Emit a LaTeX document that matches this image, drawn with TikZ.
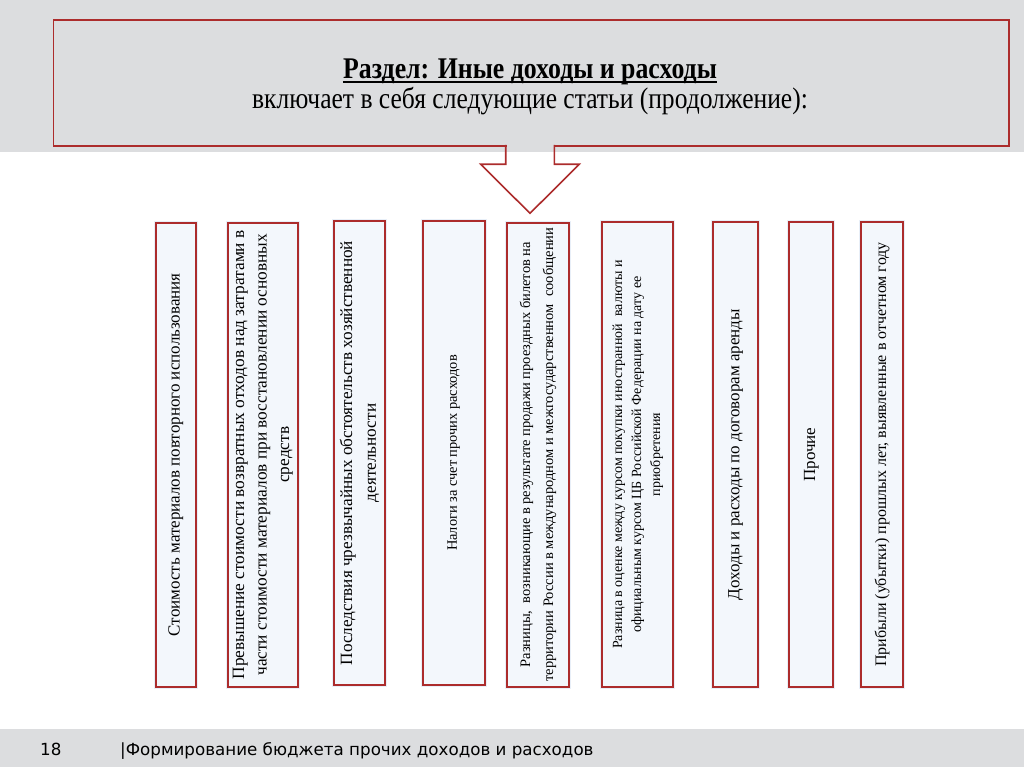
\documentclass[tikz,border=0pt]{standalone}
\usepackage{fontspec}
\setmainfont{Liberation Serif}
\newfontfamily\titlefont[FakeStretch=0.86]{Liberation Serif}
\newfontfamily\footfont{DejaVu Sans}
\definecolor{band}{RGB}{220,221,223}
\definecolor{bred}{RGB}{172,44,44}
\definecolor{boxfill}{RGB}{243,247,252}
\definecolor{glow}{RGB}{232,239,248}
\tikzset{
  titlebox/.style={draw=bred, line width=1.7, fill=band, inner sep=0},
  itembox/.style={draw=bred, line width=1.8, fill=boxfill, rotate=90, inner sep=0, align=center,
    preaction={draw=glow, line width=4}},
  arrowline/.style={draw=bred, line width=1.6, line join=miter},
  fs/.style n args={2}{font=\fontsize{#1}{#2}\selectfont},
}
\begin{document}
\begin{tikzpicture}[x=1pt,y=-1pt]
\useasboundingbox (0,0) rectangle (1024,767);
\fill[band] (0,0) rectangle (1024,152);
\fill[band] (0,729) rectangle (1024,767);
% title
\node[titlebox, minimum width=955.5, minimum height=126, anchor=north west] (title) at (52.5,19) {};
\node[anchor=base, inner sep=0, font={\titlefont\fontsize{30}{34}\selectfont\bfseries}] (t1) at (530,79) {Раздел: Иные доходы и расходы};
\draw[line width=2.2] ([yshift=-3.2pt]t1.base west) -- ([yshift=-3.2pt]t1.base east);
\node[anchor=base, font={\titlefont\fontsize{29.7}{33}\selectfont}] (t2) at (530,108.5) {включает в себя следующие статьи (продолжение):};
% block arrow
\fill[band] (506.5,142) rectangle (553.5,148);
\coordinate (a1) at (505.7,145);
\coordinate (a2) at (505.7,164.3);
\coordinate (a3) at (480.7,164.3);
\coordinate (tip) at (530,213.3);
\coordinate (a5) at (579.3,164.3);
\coordinate (a6) at (554.3,164.3);
\coordinate (a7) at (554.3,145);
\draw[arrowline] (a1) -- (a2) -- (a3) -- (tip) -- (a5) -- (a6) -- (a7);
% items
\node[itembox, minimum width=464, minimum height=40, fs={17}{22}] (b1) at (175.7,454.7)
  {Стоимость материалов повторного использования};
\node[itembox, minimum width=464, minimum height=69.7, fs={17.3}{22.5}] (b2) at (262.8,454.7)
  {Превышение стоимости возвратных отходов над затратами в\\части стоимости материалов при восстановлении основных\\средств};
\node[itembox, minimum width=464, minimum height=51, fs={17.2}{23.7}] (b3) at (359.5,453)
  {Последствия чрезвычайных обстоятельств хозяйственной\\деятельности};
\node[itembox, minimum width=464, minimum height=62.3, fs={14.4}{18}] (b4) at (453.8,453)
  {Налоги за счет прочих расходов};
\node[itembox, minimum width=464, minimum height=62.6, fs={14.5}{23}] (b5) at (538,454.7)
  {Разницы,\ \ возникающие в результате продажи проездных билетов на\\территории России в международном и межгосударственном\ \ сообщении};
\node[itembox, minimum width=465, minimum height=71, fs={14}{19}] (b6) at (637.8,454.5)
  {Разница в оценке между курсом покупки иностранной\ \ валюты и\\официальным курсом ЦБ Российской Федерации на дату ее\\приобретения};
\node[itembox, minimum width=465, minimum height=44.4, fs={17}{22}] (b7) at (735.5,454.5)
  {Доходы и расходы по договорам аренды};
\node[itembox, minimum width=465, minimum height=44, fs={17}{22}] (b8) at (811.3,454.5)
  {Прочие};
\node[itembox, minimum width=465, minimum height=42.3, fs={16}{22}] (b9) at (882.2,454.5)
  {Прибыли (убытки) прошлых лет, выявленные в отчетном году};
% footer
\node[anchor=base west, font=\footfont\fontsize{16.7}{20}\selectfont, inner sep=0] (pg) at (40,755) {18};
\node[anchor=base west, font=\footfont\fontsize{16.7}{20}\selectfont, inner sep=0] (ft) at (120,755) {|Формирование бюджета прочих доходов и расходов};
\end{tikzpicture}
\end{document}
